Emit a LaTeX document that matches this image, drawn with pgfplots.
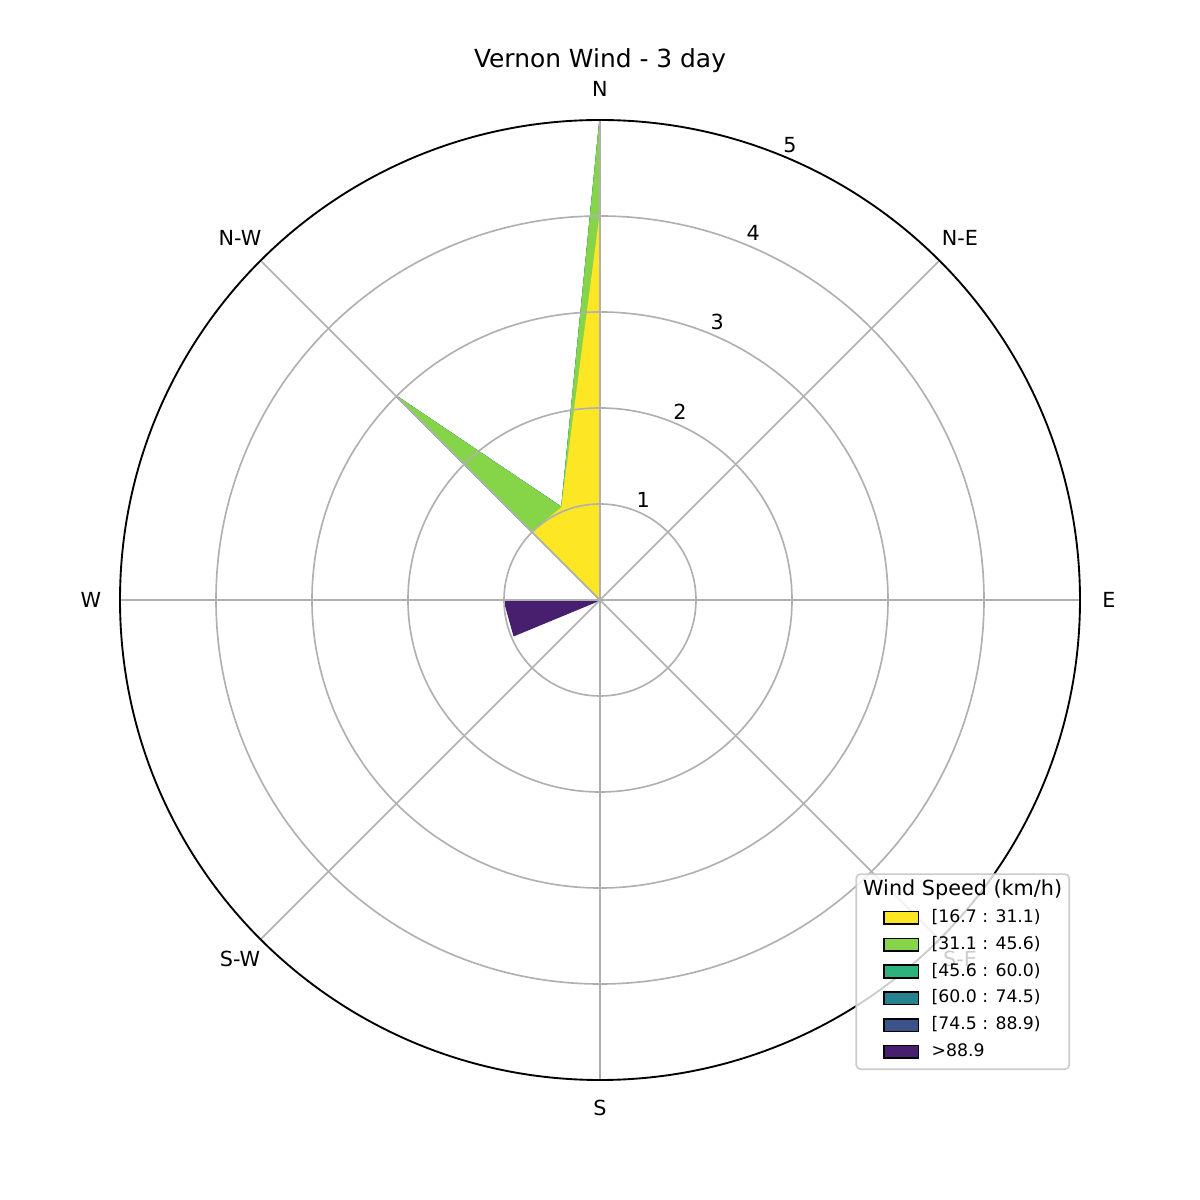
\documentclass[border=0pt]{standalone}
\usepackage{fontspec}
\setmainfont{DejaVu Sans}
\usepackage{pgfplots}
\pgfplotsset{compat=1.18}
\definecolor{cYel}{HTML}{FDE725}
\definecolor{cLgr}{HTML}{86D549}
\definecolor{cGrn}{HTML}{2DB17D}
\definecolor{cTeal}{HTML}{26828E}
\definecolor{cBlue}{HTML}{3B528B}
\definecolor{cPur}{HTML}{471F6E}
\definecolor{gridc}{HTML}{B0B0B0}
\pgfplotsset{
  patchlegend/.style={legend image code/.code={\path[draw=none,fill=none] (-12.1pt,0) -- (0pt,0);\draw[##1,sharp corners,fill opacity=1,draw opacity=1,line width=0.8pt] (0pt,-3pt) rectangle (16.4pt,3.1pt);}}
}
\begin{document}
\begin{tikzpicture}
\useasboundingbox (0,0) rectangle (8in,8in);
\begin{axis}[
  at={(0,0)}, anchor=south west,
  width=8in, height=8in, scale only axis,
  xmin=-6.25, xmax=6.25, ymin=-6.25, ymax=6.25,
  hide axis, clip=false,
  legend cell align=left,
  legend style={
    at={(axis description cs:0.8917,0.1083)}, anchor=south east,
    draw=black!20, line width=0.8pt, rounded corners=2pt,
    fill=white, fill opacity=0.8, text opacity=1,
    font=\fontsize{8.33}{10}\selectfont,
    inner xsep=1.4pt, inner ysep=2.3pt,
    row sep=0.9pt,
    nodes={inner sep=2pt, text height=6.2pt, text depth=1.8pt},
    /tikz/every odd column/.append style={column sep=4pt},
  },
]
% cumulative totals (all bins) -> purple
\addplot[forget plot, fill=cPur, draw=cPur, line width=0.6pt, data cs=polar] coordinates {
 (90,5.0) (112.5,1.04) (135,3.0) (157.5,0) (180,1.0) (202.5,0.97) (225,0) (247.5,0)
 (270,1.0) (292.5,0) (315,0) (337.5,0) (0,0) (22.5,0) (45,0) (67.5,0)} -- cycle;
% cumulative up to [74.5 : 88.9)
\addplot[forget plot, fill=cBlue, draw=cBlue, line width=0.6pt, data cs=polar] coordinates {
 (90,5.0) (112.5,1.04) (135,3.0) (157.5,0) (180,0) (202.5,0) (225,0) (247.5,0)
 (270,1.0) (292.5,0) (315,0) (337.5,0) (0,0) (22.5,0) (45,0) (67.5,0)} -- cycle;
% cumulative up to [60.0 : 74.5)
\addplot[forget plot, fill=cTeal, draw=cTeal, line width=0.6pt, data cs=polar] coordinates {
 (90,5.0) (112.5,1.04) (135,3.0) (157.5,0) (180,0) (202.5,0) (225,0) (247.5,0)
 (270,1.0) (292.5,0) (315,0) (337.5,0) (0,0) (22.5,0) (45,0) (67.5,0)} -- cycle;
% cumulative up to [45.6 : 60.0)
\addplot[forget plot, fill=cGrn, draw=cGrn, line width=0.6pt, data cs=polar] coordinates {
 (90,5.0) (112.5,1.04) (135,3.0) (157.5,0) (180,0) (202.5,0) (225,0) (247.5,0)
 (270,1.0) (292.5,0) (315,0) (337.5,0) (0,0) (22.5,0) (45,0) (67.5,0)} -- cycle;
% cumulative up to [31.1 : 45.6)
\addplot[forget plot, fill=cLgr, draw=cLgr, line width=0.6pt, data cs=polar] coordinates {
 (90,5.0) (112.5,1.04) (135,3.0) (157.5,0) (180,0) (202.5,0) (225,0) (247.5,0)
 (270,1.0) (292.5,0) (315,0) (337.5,0) (0,0) (22.5,0) (45,0) (67.5,0)} -- cycle;
% [16.7 : 31.1)
\addplot[forget plot, fill=cYel, draw=cYel, line width=0.6pt, data cs=polar] coordinates {
 (90,4.0) (112.5,1.04) (135,1.0) (157.5,0) (180,0) (202.5,0) (225,0) (247.5,0)
 (270,0) (292.5,0) (315,0) (337.5,0) (0,0) (22.5,0) (45,0) (67.5,0)} -- cycle;

% grid on top
\draw[gridc, line width=0.8pt] (axis cs:-5,0) -- (axis cs:5,0);
\draw[gridc, line width=0.8pt] (axis cs:0,-5) -- (axis cs:0,5);
\draw[gridc, line width=0.8pt] (axis cs:-3.5355,-3.5355) -- (axis cs:3.5355,3.5355);
\draw[gridc, line width=0.8pt] (axis cs:-3.5355,3.5355) -- (axis cs:3.5355,-3.5355);
\draw[gridc, line width=0.8pt] (axis cs:0,0) circle[radius=1];
\draw[gridc, line width=0.8pt] (axis cs:0,0) circle[radius=2];
\draw[gridc, line width=0.8pt] (axis cs:0,0) circle[radius=3];
\draw[gridc, line width=0.8pt] (axis cs:0,0) circle[radius=4];
\draw[black, line width=0.9pt] (axis cs:0,0) circle[radius=5];

% labels
\node[font=\fontsize{12}{14}\selectfont, anchor=base] at (axis cs:0,5.542) {Vernon Wind - 3 day};
\begin{scope}[every node/.style={font=\fontsize{10}{12}\selectfont}]
\node at (axis cs:0,5.323) {N};
\node at (axis cs:3.75,3.771) {N-E};
\node at (axis cs:5.302,0) {E};
\node at (axis cs:3.75,-3.74) {S-E};
\node at (axis cs:0,-5.292) {S};
\node at (axis cs:-3.75,-3.74) {S-W};
\node at (axis cs:-5.302,0) {W};
\node at (axis cs:-3.75,3.771) {N-W};
\node at (axis cs:0.451,1.042) {1};
\node at (axis cs:0.833,1.962) {2};
\node at (axis cs:1.222,2.899) {3};
\node at (axis cs:1.597,3.819) {4};
\node at (axis cs:1.979,4.74) {5};
\end{scope}

\addlegendimage{empty legend}
\addlegendentry{\hspace{-33pt}\fontsize{10}{12}\selectfont Wind Speed (km/h)}
\addlegendimage{patchlegend, fill=cYel, draw=black}
\addlegendentry{[16.7 : 31.1)}
\addlegendimage{patchlegend, fill=cLgr, draw=black}
\addlegendentry{[31.1 : 45.6)}
\addlegendimage{patchlegend, fill=cGrn, draw=black}
\addlegendentry{[45.6 : 60.0)}
\addlegendimage{patchlegend, fill=cTeal, draw=black}
\addlegendentry{[60.0 : 74.5)}
\addlegendimage{patchlegend, fill=cBlue, draw=black}
\addlegendentry{[74.5 : 88.9)}
\addlegendimage{patchlegend, fill=cPur, draw=black}
\addlegendentry{>88.9}
\end{axis}
\end{tikzpicture}
\end{document}
